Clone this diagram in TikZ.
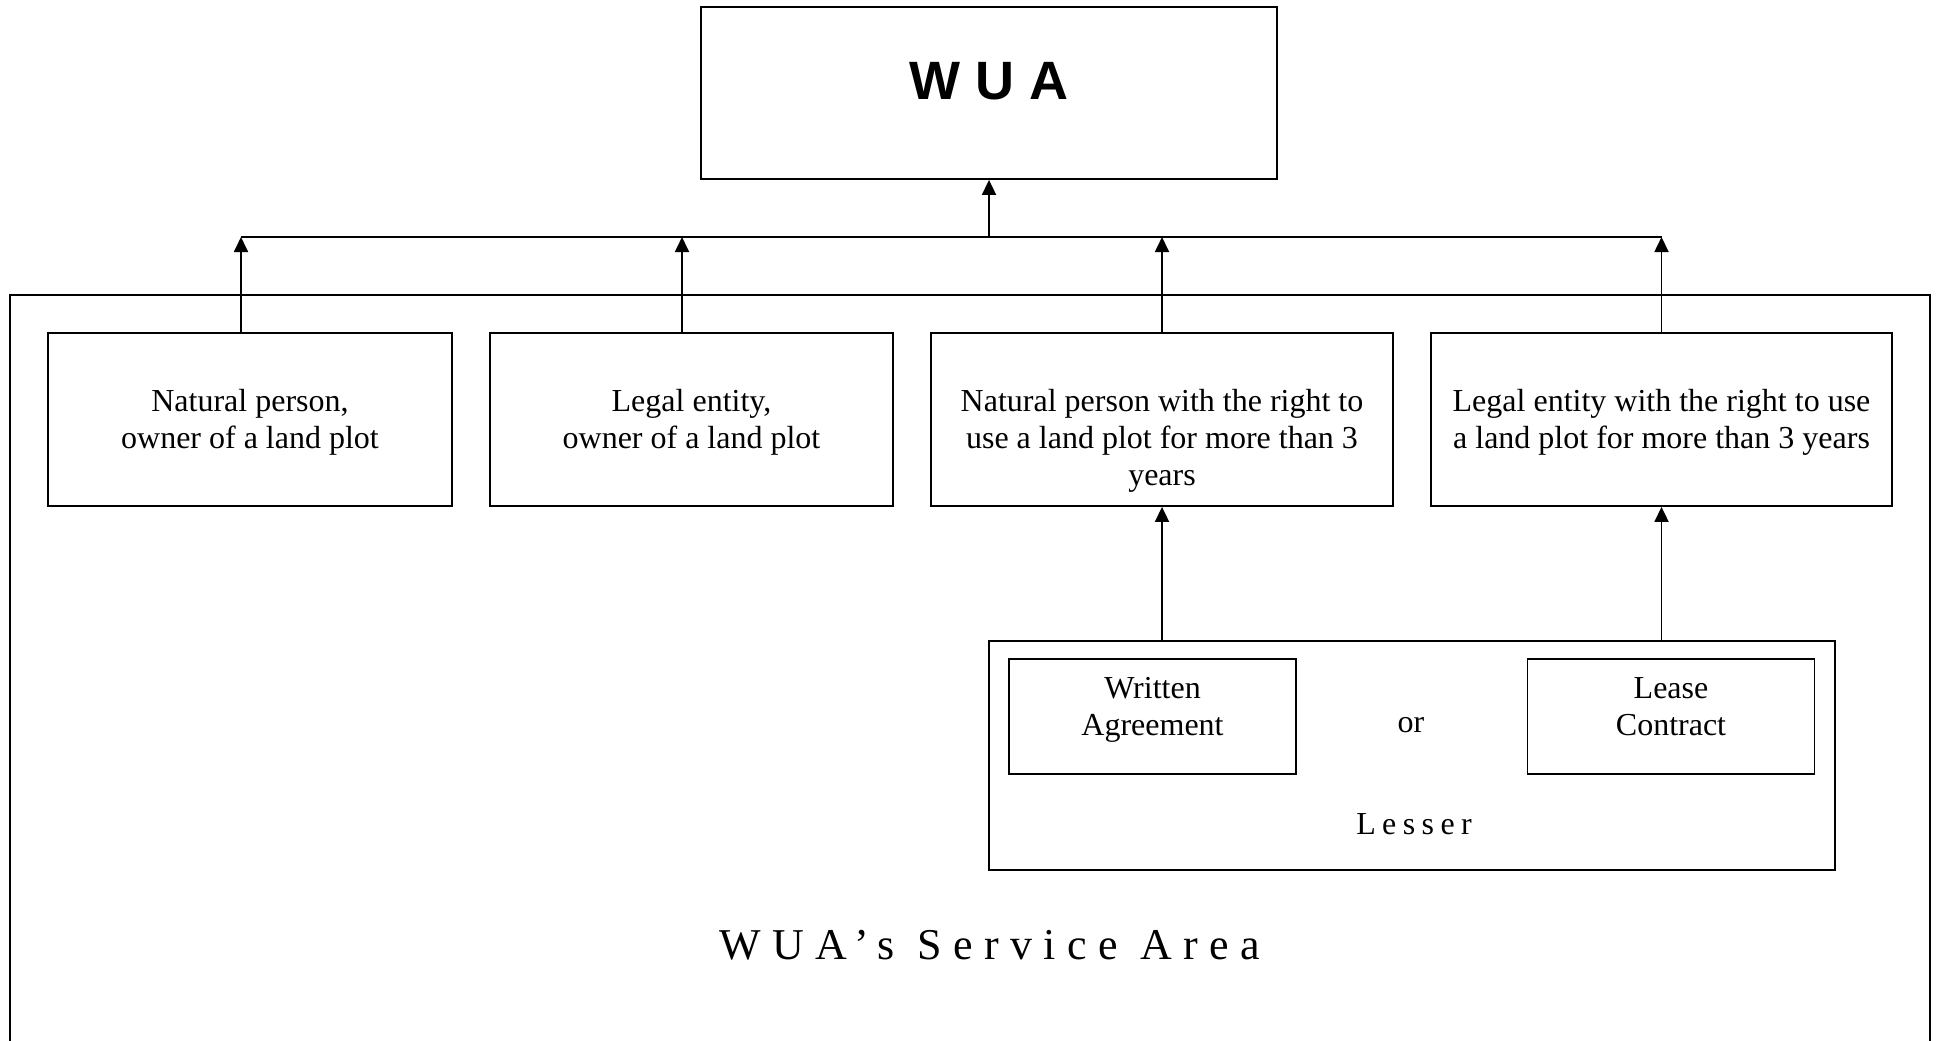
\documentclass[tikz,border=0pt]{standalone}
\usepackage{fontspec}
\setmainfont{Liberation Serif}
\newfontfamily\wuafont{Liberation Sans}
\newfontfamily\spacedfont[LetterSpace=26]{Liberation Serif}
\newfontfamily\lesserfont[LetterSpace=20]{Liberation Serif}
\usepackage{tikz}
\usetikzlibrary{
    arrows.meta,
    positioning
}

\begin{document}
\begin{tikzpicture}[
    x=0.5pt, y=-0.5pt,
    line width=0.9pt,
    box/.style={draw, inner sep=0pt, align=center,
        font=\fontsize{16}{18.5}\selectfont},
    rowbox/.style={box, minimum height=86.5pt},
    docbox/.style={box, minimum width=143.5pt, minimum height=57.5pt},
    rowtext/.style={inner sep=0pt, align=center,
        font=\fontsize{16}{18.5}\selectfont},
    upto/.style={-{Triangle[length=7.5pt,width=7pt]}}
]
    \useasboundingbox (0,0) rectangle (1936,1040);

    % top box
    \node[draw, minimum width=288pt, minimum height=86pt] (wua) at (989,93) {};
    \node[font=\wuafont\bfseries\fontsize{27}{30}\selectfont, inner sep=0pt]
        (wuatitle) at ([yshift=6pt]wua.center) {W U A};

    % service area frame, open at the bottom
    \draw (10,1050) -- (10,295) -- (1930,295) -- (1930,1050);

    % members
    \node[rowbox, minimum width=202pt] (b1) at (250,419.5) {};
    \node[rowbox, minimum width=201.5pt] (b2) at (691.5,419.5) {};
    \node[rowbox, minimum width=231pt] (b3) at (1162,419.5) {};
    \node[rowbox, minimum width=230.5pt] (b4) at (1661.5,419.5) {};

    \node[rowtext, below=28pt of b1.north] (t1) {Natural person,\\owner of a land plot};
    \node[rowtext, below=28pt of b2.north] (t2) {Legal entity,\\owner of a land plot};
    \node[rowtext, below=28pt of b3.north] (t3)
        {Natural person with the right to\\use a land plot for more than 3\\years};
    \node[rowtext, below=28pt of b4.north] (t4)
        {Legal entity with the right to use\\a land plot for more than 3 years};

    % bus to WUA
    \coordinate (bus) at (989,237);
    \coordinate (a1) at ([xshift=-4.5pt]b1.north);
    \coordinate (a2) at ([xshift=-4.75pt]b2.north);
    \draw (a1 |- bus) -- (b4.north |- bus);
    \draw[upto] (bus) -- (wua.south);
    \draw[upto] (a1) -- (a1 |- bus);
    \draw[upto] (a2) -- (a2 |- bus);
    \draw[upto] (b3.north) -- (b3.north |- bus);
    \draw[upto] (b4.north) -- (b4.north |- bus);

    % lesser
    \node[draw, minimum width=423pt, minimum height=114.5pt] (lesser) at (1412,755.5) {};
    \node[docbox] (written) at (1152.5,716.5) {};
    \node[docbox] (lease) at (1671,716.5) {};
    \node[rowtext] (wtxt) at (1152.5,710) {\strut Written\\\strut Agreement};
    \node[rowtext] (ltxt) at (1671,710) {\strut Lease\\\strut Contract};
    \node[rowtext] (or) at (1411,725) {or};
    \node[inner sep=0pt, font=\lesserfont\fontsize{16}{18.5}\selectfont] (lessertxt) at (1414,824) {Lesser};

    \draw[upto] (lesser.north -| b3.north) -- (b3.south);
    \draw[upto] (lesser.north -| b4.north) -- (b4.south);

    \node[inner sep=0pt, font=\spacedfont\fontsize{22}{26}\selectfont] (area) at (990,945) {WUA’s Service Area};
\end{tikzpicture}
\end{document}
